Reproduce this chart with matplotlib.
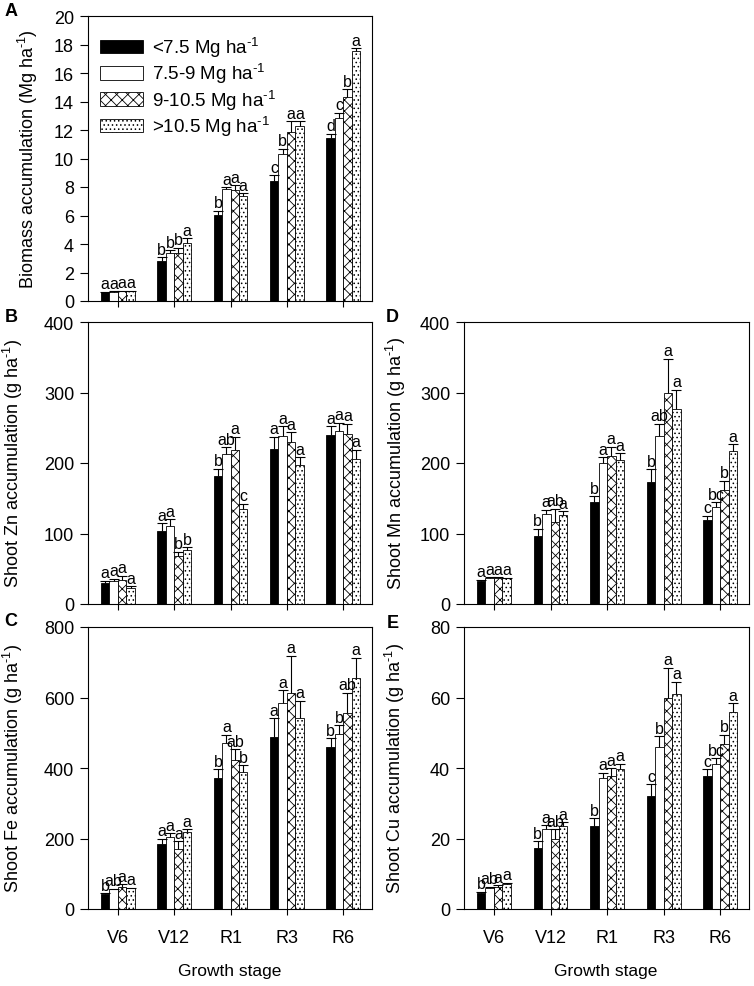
import numpy as np
import matplotlib

matplotlib.use("Agg")
import matplotlib.pyplot as plt

plt.rcParams["font.family"] = "Liberation Sans"
plt.rcParams["mathtext.fontset"] = "custom"
plt.rcParams["mathtext.rm"] = "Liberation Sans"
plt.rcParams["mathtext.default"] = "regular"
plt.rcParams["hatch.linewidth"] = 0.6

stages = ["V6", "V12", "R1", "R3", "R6"]
group_labels = [r"<7.5 Mg ha$^{\text{-1}}$", r"7.5-9 Mg ha$^{\text{-1}}$",
                r"9-10.5 Mg ha$^{\text{-1}}$", r">10.5 Mg ha$^{\text{-1}}$"]

# biomass (Mg/ha), one list per yield group
bio_lt75 = [0.62, 2.84, 6.05, 8.40, 11.44]
bio_75_9 = [0.65, 3.40, 7.85, 10.34, 12.85]
bio_9_105 = [0.68, 3.35, 7.76, 11.86, 14.33]
bio_gt105 = [0.68, 4.10, 7.34, 12.26, 17.55]
bio_lt75_err = [0.04, 0.25, 0.30, 0.42, 0.30]
bio_75_9_err = [0.03, 0.15, 0.15, 0.36, 0.35]
bio_9_105_err = [0.03, 0.40, 0.35, 0.75, 0.55]
bio_gt105_err = [0.03, 0.30, 0.22, 0.35, 0.20]
bio_letters = [["a", "a", "a", "a"], ["b", "b", "b", "a"], ["b", "a", "a", "a"],
               ["c", "b", "a", "a"], ["d", "c", "b", "a"]]

# Zn (g/ha)
zn_lt75 = [29.8, 103, 181, 220, 240]
zn_75_9 = [32.6, 110.6, 212.8, 239, 246]
zn_9_105 = [34, 68, 219, 230, 241.6]
zn_gt105 = [22, 76.6, 135, 197, 205]
zn_lt75_err = [3, 12, 11, 17, 12]
zn_75_9_err = [3, 10, 10, 13, 11]
zn_9_105_err = [6, 6, 18, 14, 14]
zn_gt105_err = [3, 4, 7, 11, 14]
zn_letters = [["a", "a", "a", "a"], ["a", "a", "b", "b"], ["b", "ab", "a", "c"],
              ["a", "a", "a", "a"], ["a", "a", "a", "a"]]

# Fe (g/ha)
fe_lt75 = [42.5, 183, 373, 488.6, 460]
fe_75_9 = [55.7, 204.7, 471.6, 583, 496]
fe_9_105 = [63, 169, 424, 613, 555]
fe_gt105 = [58.5, 218, 387.5, 540.6, 656]
fe_lt75_err = [3, 17, 24, 52, 24]
fe_75_9_err = [2, 11, 23, 37, 26]
fe_9_105_err = [7, 23, 30, 105, 59]
fe_gt105_err = [2, 8, 20, 50, 57]
fe_letters = [["b", "ab", "a", "a"], ["a", "a", "a", "a"], ["b", "a", "ab", "b"],
              ["a", "a", "a", "a"], ["b", "b", "ab", "a"]]

# Mn (g/ha)
mn_lt75 = [32, 97, 144.7, 173, 118.7]
mn_75_9 = [37, 128, 200, 237.8, 138]
mn_9_105 = [36.4, 117, 210, 298.8, 161]
mn_gt105 = [36.4, 126, 204, 277, 216.5]
mn_lt75_err = [2.5, 10, 8.5, 18, 6.5]
mn_75_9_err = [1, 6, 8.5, 18, 6.7]
mn_9_105_err = [1.5, 18, 13, 49, 14]
mn_gt105_err = [1, 6, 9.7, 27, 10.5]
mn_letters = [["a", "a", "a", "a"], ["b", "a", "ab", "a"], ["b", "a", "a", "a"],
              ["b", "ab", "a", "a"], ["c", "bc", "b", "a"]]

# Cu (g/ha)
cu_lt75 = [4.4, 17.2, 23.5, 32, 37.7]
cu_75_9 = [6.0, 22.7, 37.2, 46, 41]
cu_9_105 = [6.3, 20, 37.8, 59.9, 46.7]
cu_gt105 = [7.1, 23.5, 39.6, 60.9, 56]
cu_lt75_err = [0.5, 2.1, 2.2, 3.4, 2.0]
cu_75_9_err = [0.3, 1.1, 1.5, 3.0, 1.7]
cu_9_105_err = [0.5, 2.7, 2.2, 8.5, 2.8]
cu_gt105_err = [0.4, 1.1, 1.6, 3.6, 2.3]
cu_letters = [["b", "ab", "a", "a"], ["b", "a", "ab", "a"], ["b", "a", "a", "a"],
              ["c", "b", "a", "a"], ["c", "bc", "b", "a"]]

colors = ["black", "white", "white", "white"]
hatches = [None, None, "xxx", "...."]


def draw_panel(ax, values, errors, letters, ymax, ystep, ylabel,
               label_x, show_xlabels):
    x = np.arange(len(stages))
    width = 0.15
    for i in range(4):
        pos = x + (i - 1.5) * width
        ax.bar(pos, values[i], width, color=colors[i], edgecolor="black",
               hatch=hatches[i], linewidth=0.6, label=group_labels[i], zorder=2)
        eb = ax.errorbar(pos, values[i], yerr=[np.zeros(len(pos)), errors[i]],
                         fmt="none", ecolor="black", elinewidth=0.8,
                         capsize=3.7, capthick=0.8, zorder=3)
        eb[1][0].set_visible(False)  # only upper caps
        for j in range(len(stages)):
            ax.annotate(letters[j][i], (pos[j], values[i][j] + errors[i][j]),
                        xytext=(0, 0.3), textcoords="offset points",
                        ha="center", va="bottom", fontsize=11.5)

    ax.set_xlim(-0.53, 4.51)
    ax.set_ylim(0, ymax)
    ax.set_yticks(np.arange(0, ymax + ystep / 2, ystep))
    ax.set_xticks(x)
    if show_xlabels:
        ax.set_xticklabels(stages)
    else:
        ax.set_xticklabels([])
    ax.tick_params(axis="y", direction="out", length=6, width=0.8,
                   labelsize=13, pad=4)
    ax.tick_params(axis="x", direction="out", length=4.5, width=0.8,
                   labelsize=13, pad=10)
    for s in ax.spines.values():
        s.set_linewidth(0.8)
    ax.set_ylabel(ylabel, fontsize=13)
    ax.yaxis.set_label_coords(label_x, 0.5)


fig = plt.figure(figsize=(7.54, 9.87), dpi=100)
W, H = 754.0, 987.0


def px_axes(left, top, right, bottom):
    return fig.add_axes([left / W, 1 - bottom / H, (right - left) / W,
                         (bottom - top) / H])


axA = px_axes(88, 17, 372, 302)
axB = px_axes(88, 323, 372, 605)
axC = px_axes(88, 628, 372, 910)
axD = px_axes(464, 323, 749, 605)
axE = px_axes(464, 628, 749, 910)

draw_panel(axA, [bio_lt75, bio_75_9, bio_9_105, bio_gt105],
           [bio_lt75_err, bio_75_9_err, bio_9_105_err, bio_gt105_err],
           bio_letters, 20, 2, r"Biomass accumulation (Mg ha$^{\text{-1}}$)",
           -0.17, False)
draw_panel(axB, [zn_lt75, zn_75_9, zn_9_105, zn_gt105],
           [zn_lt75_err, zn_75_9_err, zn_9_105_err, zn_gt105_err],
           zn_letters, 400, 100, r"Shoot Zn accumulation (g ha$^{\text{-1}}$)",
           -0.222, False)
draw_panel(axC, [fe_lt75, fe_75_9, fe_9_105, fe_gt105],
           [fe_lt75_err, fe_75_9_err, fe_9_105_err, fe_gt105_err],
           fe_letters, 800, 200, r"Shoot Fe accumulation (g ha$^{\text{-1}}$)",
           -0.222, True)
draw_panel(axD, [mn_lt75, mn_75_9, mn_9_105, mn_gt105],
           [mn_lt75_err, mn_75_9_err, mn_9_105_err, mn_gt105_err],
           mn_letters, 400, 100, r"Shoot Mn accumulation (g ha$^{\text{-1}}$)",
           -0.196, False)
draw_panel(axE, [cu_lt75, cu_75_9, cu_9_105, cu_gt105],
           [cu_lt75_err, cu_75_9_err, cu_9_105_err, cu_gt105_err],
           cu_letters, 80, 20, r"Shoot Cu accumulation (g ha$^{\text{-1}}$)",
           -0.2, True)

# panel letters
for lab, px, py in [("A", 11, 12), ("B", 11, 317), ("C", 11, 622),
                    ("D", 392, 317), ("E", 393, 624)]:
    fig.text(px / W, 1 - py / H, lab, fontsize=13, fontweight="bold",
             ha="center", va="center")

axA.legend(loc="upper left", bbox_to_anchor=(12 / 284, 1 - 19 / 285),
           frameon=False, borderpad=0, borderaxespad=0, fontsize=13.5,
           handlelength=2.3, handleheight=0.75, handletextpad=0.45,
           labelspacing=0.12)

fig.text(230 / W, 1 - 972 / H, "Growth stage", ha="center", va="center",
         fontsize=12.5)
fig.text(606 / W, 1 - 972 / H, "Growth stage", ha="center", va="center",
         fontsize=12.5)

plt.savefig("out.png", dpi=100)
